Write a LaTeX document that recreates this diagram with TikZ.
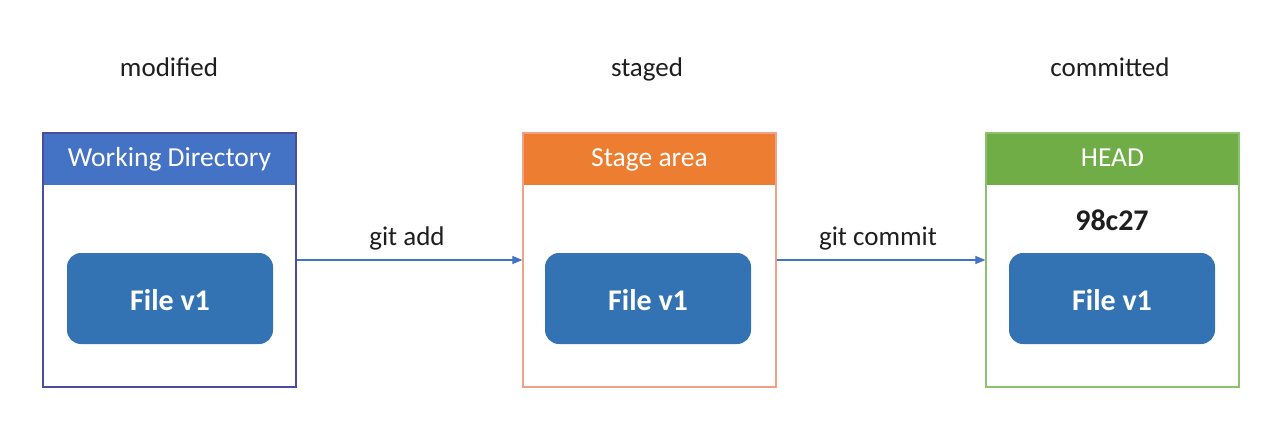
\documentclass[tikz,border=0pt]{standalone}
\usepackage{fontspec}
\setmainfont{Carlito}
\usetikzlibrary{arrows.meta}
\definecolor{hblue}{HTML}{4472C4}
\definecolor{horange}{HTML}{ED7D31}
\definecolor{hgreen}{HTML}{70AD47}
\definecolor{bblue}{HTML}{4B4BA0}
\definecolor{borange}{HTML}{F2A088}
\definecolor{bgreen}{HTML}{8CC26E}
\definecolor{fileblue}{HTML}{3373B4}
\definecolor{arrblue}{HTML}{4472C4}
\definecolor{txt}{HTML}{1E1E1E}
\begin{document}
\begin{tikzpicture}[x=1pt,y=-1pt,
  lbl/.style={font=\fontsize{27}{30}\selectfont, text=txt, anchor=base, inner sep=0pt},
  outer/.style={draw, line width=1.2pt, minimum width=253pt, minimum height=254pt, inner sep=0pt},
  hdr/.style={minimum width=253pt, minimum height=52pt, anchor=north, inner sep=0pt, text=white,
    font=\fontsize{27.5}{30}\selectfont, text height=18pt, text depth=2pt},
  filebox/.style={fill=fileblue, rounded corners=14pt, minimum width=206pt, minimum height=91pt,
    inner sep=0pt, text=white, font=\bfseries\fontsize{30}{32}\selectfont, text height=24pt, text depth=1pt},
  arr/.style={draw=arrblue, line width=1.1pt, -{Triangle[length=10pt,width=8pt]}}
]
\useasboundingbox[fill=white] (0,0) rectangle (1274,428);

% outer boxes (geometry only first)
\path (169.5,260) node[outer, draw=none] (wd) {};
\path (649.5,260) node[outer, draw=none] (sa) {};
\path (1112.5,260) node[outer, draw=none] (hd) {};

% headers
\node[hdr, fill=hblue] (wdh) at (wd.north) {Working Directory};
\node[hdr, fill=horange] (sah) at (sa.north) {Stage area};
\node[hdr, fill=hgreen] (hdh) at (hd.north) {HEAD};

% borders
\node[outer, draw=bblue] at (wd.center) {};
\node[outer, draw=borange] at (sa.center) {};
\node[outer, draw=bgreen] at (hd.center) {};

% file boxes
\node[filebox] (f1) at (170,298.5) {File v1};
\node[filebox] (f2) at (648,298.5) {File v1};
\node[filebox] (f3) at (1112,298.5) {File v1};

% commit id
\node[lbl, font=\bfseries\fontsize{30}{32}\selectfont] (cid) at (1112,230) {98c27};

% state labels
\node[lbl] (lmod) at (169,77) {modified};
\node[lbl] (lstg) at (647,77) {staged};
\node[lbl] (lcom) at (1110,77) {committed};

% arrows
\draw[arr] (wd.east) -- (sa.west);
\draw[arr] (sa.east) -- (hd.west);
\node[lbl] (ladd) at (407,245) {git add};
\node[lbl] (lcmt) at (878,245) {git commit};
\end{tikzpicture}
\end{document}
